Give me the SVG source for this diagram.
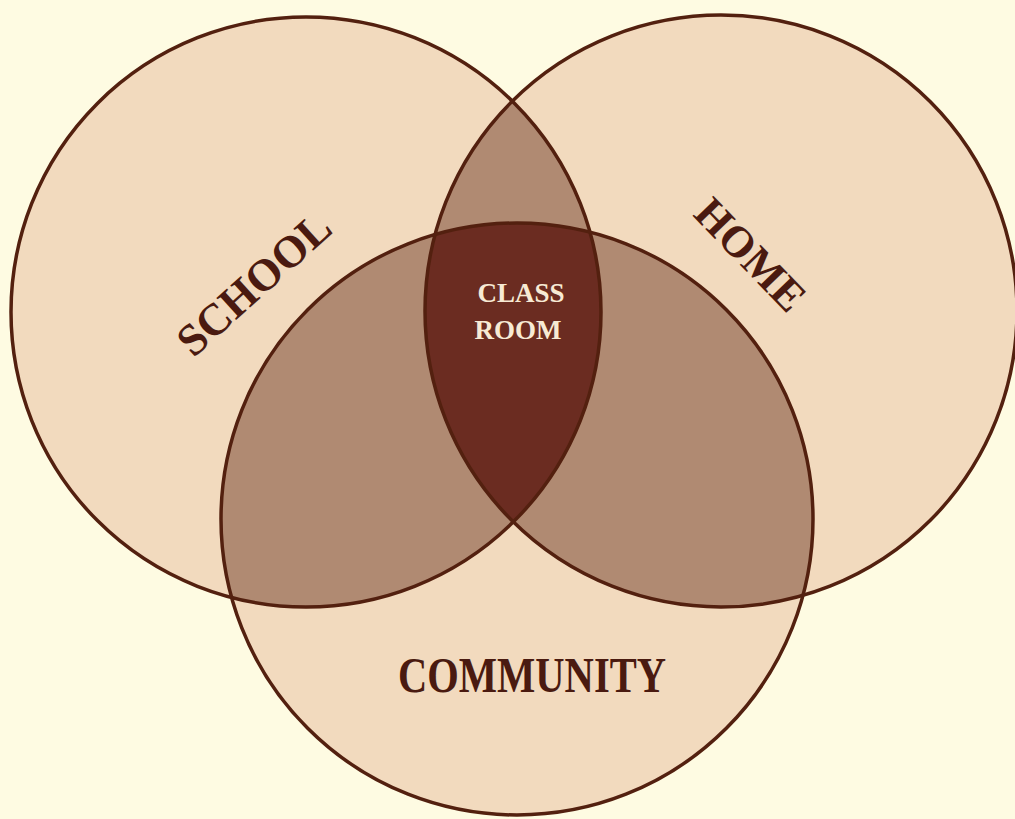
<svg xmlns="http://www.w3.org/2000/svg" width="1015" height="819" viewBox="0 0 1015 819">
  <style>
    .disc { fill: #F2DABE; }
    .pair { fill: #B08A72; }
    .core { fill: #6B2C21; }
    .rim { fill: none; stroke: #53200F; stroke-width: 3.5; }
    .label { font-family: "Liberation Serif", "DejaVu Serif", serif; font-weight: bold; fill: #4A1A10; text-anchor: middle; }
    .inner { font-family: "Liberation Serif", "DejaVu Serif", serif; font-weight: bold; fill: #F7EAD4; text-anchor: middle; font-size: 27px; }
  </style>
  <defs>
    <circle id="c-school" cx="306" cy="312" r="295"/>
    <circle id="c-home" cx="721" cy="311" r="296"/>
    <circle id="c-community" cx="517" cy="519" r="296"/>
    <clipPath id="clip-school"><use href="#c-school"/></clipPath>
    <clipPath id="clip-home"><use href="#c-home"/></clipPath>
    <clipPath id="clip-community"><use href="#c-community"/></clipPath>
  </defs>

  <!-- paper -->
  <rect width="1015" height="819" fill="#FEFBE2"/>

  <!-- single-circle fills -->
  <g id="school">
    <use href="#c-school" class="disc"/>
  </g>
  <g id="home">
    <use href="#c-home" class="disc"/>
  </g>
  <g id="community">
    <use href="#c-community" class="disc"/>
  </g>

  <!-- pairwise overlaps -->
  <g id="overlaps">
    <g clip-path="url(#clip-school)"><use href="#c-home" class="pair"/></g>
    <g clip-path="url(#clip-school)"><use href="#c-community" class="pair"/></g>
    <g clip-path="url(#clip-home)"><use href="#c-community" class="pair"/></g>
  </g>

  <!-- triple overlap -->
  <g id="classroom">
    <g clip-path="url(#clip-school)"><g clip-path="url(#clip-home)"><use href="#c-community" class="core"/></g></g>
  </g>

  <!-- outlines -->
  <g id="outlines">
    <use href="#c-school" class="rim"/>
    <use href="#c-home" class="rim"/>
    <use href="#c-community" class="rim"/>
  </g>

  <!-- labels -->
  <g id="labels">
    <text class="label" x="264" y="295" font-size="45" textLength="190" lengthAdjust="spacingAndGlyphs" transform="rotate(-42 264 295)">SCHOOL</text>
    <text class="label" x="740" y="265" font-size="44" textLength="138" lengthAdjust="spacingAndGlyphs" transform="rotate(46 740 265)">HOME</text>
    <text class="label" x="532" y="692" font-size="50" textLength="268" lengthAdjust="spacingAndGlyphs">COMMUNITY</text>
    <text class="inner" x="521" y="302">CLASS</text>
    <text class="inner" x="518" y="339">ROOM</text>
  </g>
</svg>
